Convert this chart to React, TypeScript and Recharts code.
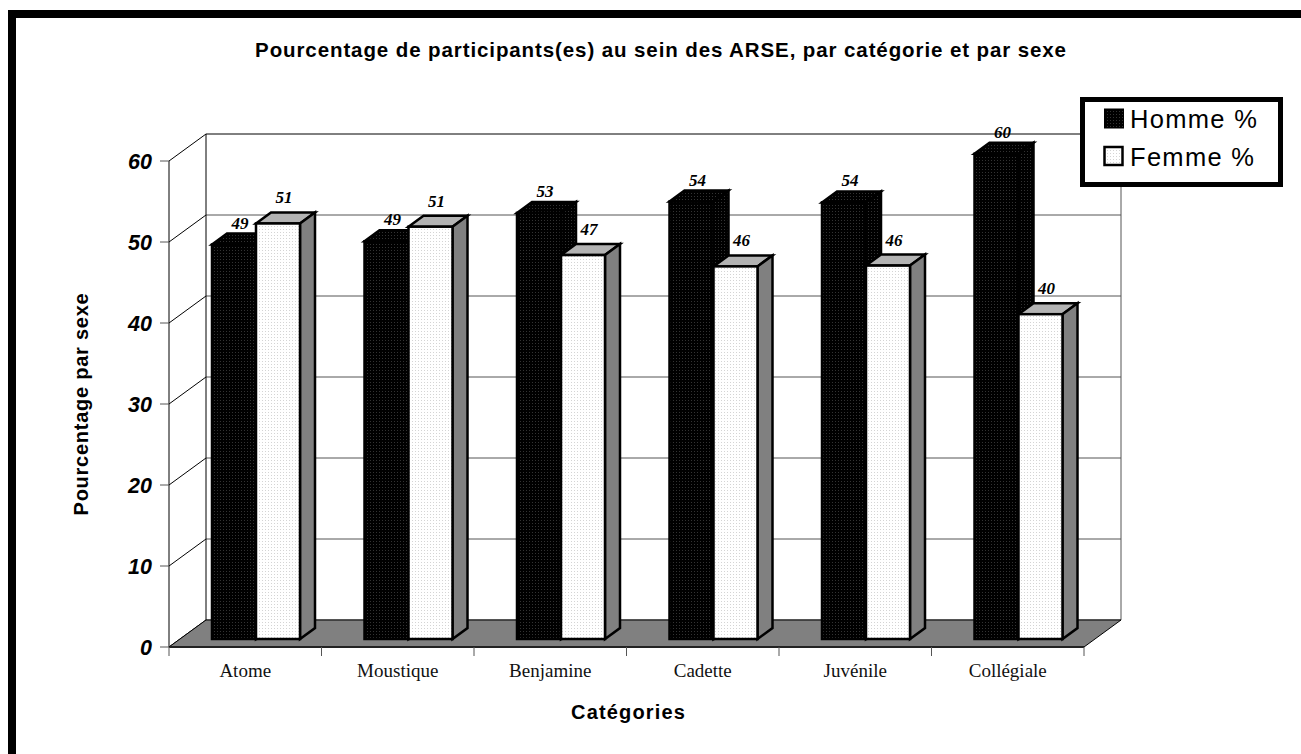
import React from "react";
import {
  BarChart,
  Bar,
  XAxis,
  YAxis,
  CartesianGrid,
  Legend,
  LabelList,
} from "recharts";

const categories = ["Atome", "Moustique", "Benjamine", "Cadette", "Juvénile", "Collégiale"];
const hommeValues = [48.7, 49.1, 52.6, 54.0, 53.9, 59.9];
const femmeValues = [51.3, 50.9, 47.4, 46.0, 46.1, 40.1];
const yTicks = [0, 10, 20, 30, 40, 50, 60];

const chartData = categories.map((name, i) => ({
  name,
  homme: hommeValues[i],
  femme: femmeValues[i],
}));

const WIDTH = 1301;
const HEIGHT = 754;
const PLOT_LEFT = 169;
const PLOT_RIGHT = 1084;
const PLOT_TOP = 161;
const PLOT_BOTTOM = 647;
// wall depth and bar depth of the fake 3D box
const WALL_DX = 37;
const WALL_DY = 27;
const BAR_DX = 15;
const BAR_DY = 11;
const BAR_SHIFT_X = 11;
const BAR_SHIFT_Y = 8;
const BAND = (PLOT_RIGHT - PLOT_LEFT) / categories.length;

const SANS = "'Liberation Sans', Arial, sans-serif";
const SERIF = "'Liberation Serif', 'Times New Roman', serif";

const gridLine = (props: any) => {
  const { x1, x2, y1, index } = props;
  const backY = y1 - WALL_DY;
  const isTop = backY < PLOT_TOP - WALL_DY + 2;
  return (
    <g key={`grid-${y1}-${index}`}>
      <line x1={x1} y1={y1} x2={x1 + WALL_DX} y2={backY} stroke="#000" strokeWidth={1} />
      <line
        x1={x1 + WALL_DX}
        y1={backY}
        x2={x2 + WALL_DX}
        y2={backY}
        stroke={isTop ? "#000" : "#555"}
        strokeWidth={1}
      />
    </g>
  );
};

const Floor = () => (
  <g>
    <line x1={PLOT_LEFT + WALL_DX} y1={PLOT_TOP - WALL_DY} x2={PLOT_LEFT + WALL_DX} y2={PLOT_BOTTOM - WALL_DY} stroke="#000" />
    <line x1={PLOT_RIGHT + WALL_DX} y1={PLOT_TOP - WALL_DY} x2={PLOT_RIGHT + WALL_DX} y2={PLOT_BOTTOM - WALL_DY} stroke="#555" />
    <polygon
      points={`${PLOT_LEFT},${PLOT_BOTTOM} ${PLOT_RIGHT},${PLOT_BOTTOM} ${PLOT_RIGHT + WALL_DX},${PLOT_BOTTOM - WALL_DY} ${PLOT_LEFT + WALL_DX},${PLOT_BOTTOM - WALL_DY}`}
      fill="#808080"
      stroke="#000"
      strokeWidth={1}
    />
    <line x1={PLOT_LEFT} y1={PLOT_BOTTOM} x2={PLOT_RIGHT} y2={PLOT_BOTTOM} stroke="#222" strokeWidth={2} />
  </g>
);

const Box = (props: any) => {
  const { x, y, width, height, front, top, side, stroke } = props;
  const fx = x + BAR_SHIFT_X;
  const fy = y - BAR_SHIFT_Y;
  const r = fx + width;
  const b = fy + height;
  return (
    <g stroke={stroke} strokeWidth={2.5} strokeLinejoin="miter">
      <polygon
        points={`${fx},${fy} ${fx + BAR_DX},${fy - BAR_DY} ${r + BAR_DX},${fy - BAR_DY} ${r},${fy}`}
        fill={top}
      />
      <polygon
        points={`${r},${fy} ${r + BAR_DX},${fy - BAR_DY} ${r + BAR_DX},${b - BAR_DY} ${r},${b}`}
        fill={side}
      />
      <rect x={fx} y={fy} width={width} height={height} fill={front} />
    </g>
  );
};

const hommeShape = (props: any) => (
  <Box {...props} front="url(#hommeDots)" top="url(#hommeDots)" side="url(#hommeDots)" stroke="#000" />
);
const femmeShape = (props: any) => (
  <Box {...props} front="url(#femmeDots)" top="#b3b3b3" side="#808080" stroke="#000" />
);

const valueLabel = (lift: number) => (props: any) => {
  const { x, y, width, value } = props;
  return (
    <text
      x={x + BAR_SHIFT_X + width / 2 + 6}
      y={y - BAR_SHIFT_Y - lift}
      textAnchor="middle"
      fontFamily={SERIF}
      fontWeight="bold"
      fontStyle="italic"
      fontSize={17}
      fill="#000"
    >
      {Math.round(value)}
    </text>
  );
};

const CategoryTick = (props: any) => {
  const { x, y, payload, index } = props;
  const left = x - BAND / 2;
  return (
    <g>
      <line x1={left} y1={PLOT_BOTTOM} x2={left} y2={PLOT_BOTTOM + 9} stroke="#555" />
      {index === categories.length - 1 && (
        <line x1={left + BAND} y1={PLOT_BOTTOM} x2={left + BAND} y2={PLOT_BOTTOM + 9} stroke="#555" />
      )}
      <text x={x} y={y + 22} textAnchor="middle" fontFamily={SERIF} fontSize={19} fill="#111">
        {payload.value}
      </text>
    </g>
  );
};

const LegendBox = () => (
  <div
    style={{
      boxSizing: "border-box",
      width: 203,
      height: 90,
      background: "#fff",
      border: "5px solid #000",
      fontFamily: SANS,
      fontSize: 25.5,
      letterSpacing: 1.3,
      color: "#000",
      position: "relative",
    }}
  >
    <svg width={24} height={70} style={{ position: "absolute", left: 18, top: 5 }}>
      <rect x={1.5} y={2} width={19} height={19} fill="url(#hommeDots)" stroke="#000" strokeWidth={1} />
      <rect x={1.5} y={40} width={18} height={18} fill="url(#femmeDots)" stroke="#000" strokeWidth={2.5} />
    </svg>
    <div style={{ position: "absolute", left: 45, top: 2, lineHeight: "30px" }}>Homme %</div>
    <div style={{ position: "absolute", left: 45, top: 40, lineHeight: "30px" }}>Femme %</div>
  </div>
);

export default function App() {
  return (
    <div
      style={{
        position: "absolute",
        left: 0,
        top: 0,
        width: WIDTH,
        height: HEIGHT,
        overflow: "hidden",
        background: "#fff",
      }}
    >
      <div style={{ position: "absolute", left: 8, top: 10, right: 0, height: 8, background: "#000" }} />
      <div style={{ position: "absolute", left: 8, top: 10, bottom: 0, width: 8, background: "#000" }} />
      <BarChart
        width={WIDTH}
        height={HEIGHT}
        data={chartData}
        barSize={44}
        barGap={0}
        margin={{
          top: PLOT_TOP,
          right: WIDTH - PLOT_RIGHT,
          left: PLOT_LEFT - 60,
          bottom: HEIGHT - PLOT_BOTTOM - 40,
        }}
      >
        <defs>
          <pattern id="hommeDots" width={3} height={3} patternUnits="userSpaceOnUse">
            <rect width={3} height={3} fill="#000" />
            <rect x={1} y={1} width={1} height={1} fill="#333" />
          </pattern>
          <pattern id="femmeDots" width={3} height={3} patternUnits="userSpaceOnUse">
            <rect width={3} height={3} fill="#fff" />
            <rect x={1} y={1} width={1} height={1} fill="#d4d4d4" />
          </pattern>
        </defs>
        <text
          x={661}
          y={57}
          textAnchor="middle"
          fontFamily={SANS}
          fontWeight="bold"
          fontSize={20.5}
          letterSpacing={0.9}
          fill="#000"
        >
          Pourcentage de participants(es) au sein des ARSE, par catégorie et par sexe
        </text>
        <CartesianGrid horizontal={gridLine} vertical={false} />
        <Floor />
        <XAxis
          dataKey="name"
          interval={0}
          height={40}
          axisLine={false}
          tickLine={false}
          tick={CategoryTick}
          label={{
            value: "Catégories",
            position: "insideBottom",
            offset: -32,
            dx: 2,
            fontFamily: SANS,
            fontWeight: "bold",
            fontSize: 20,
            letterSpacing: 1.15,
            fill: "#000",
          }}
        />
        <YAxis
          width={60}
          domain={[0, 60]}
          ticks={yTicks}
          interval={0}
          axisLine={{ stroke: "#000" }}
          tickLine={{ stroke: "#555" }}
          tickSize={9}
          tickMargin={8}
          tick={{
            fontFamily: SANS,
            fontWeight: "bold",
            fontStyle: "italic",
            fontSize: 21.5,
            fill: "#000",
          }}
          label={{
            value: "Pourcentage par sexe",
            angle: -90,
            position: "insideLeft",
            offset: -28,
            fontFamily: SANS,
            fontWeight: "bold",
            fontSize: 20,
            letterSpacing: 0.75,
            fill: "#000",
            style: { textAnchor: "middle" },
          }}
        />
        <Legend
          layout="vertical"
          align="center"
          verticalAlign="middle"
          content={<LegendBox />}
          wrapperStyle={{ left: 1080, top: 97, width: 203, height: 90, margin: 0 }}
        />
        <Bar dataKey="homme" name="Homme %" shape={hommeShape} isAnimationActive={false}>
          <LabelList dataKey="homme" content={valueLabel(16)} />
        </Bar>
        <Bar dataKey="femme" name="Femme %" shape={femmeShape} isAnimationActive={false}>
          <LabelList dataKey="femme" content={valueLabel(20)} />
        </Bar>
      </BarChart>
    </div>
  );
}
